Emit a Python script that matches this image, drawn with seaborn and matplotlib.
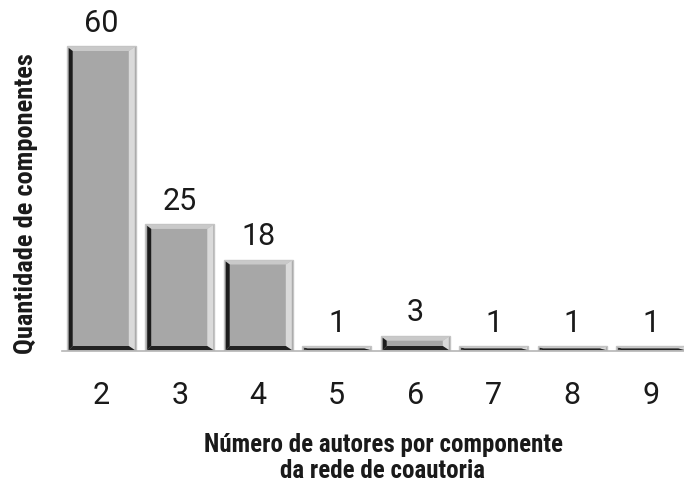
import matplotlib
matplotlib.use("Agg")
import matplotlib.pyplot as plt
from matplotlib.patches import Polygon
import numpy as np
import pandas as pd
import seaborn as sns

# Component sizes (authors per component) and how many components have each size
sizes = ["2", "3", "4", "5", "6", "7", "8", "9"]
counts = [60, 25, 18, 1, 3, 1, 1, 1]

xlabel_lines = ["Número de autores por componente", "da rede de coautoria"]
ylabel = "Quantidade de componentes"

sns.set_theme(style="white")
plt.rcParams["font.family"] = ["Roboto Condensed", "DejaVu Sans"]
digit_font = ["Roboto", "DejaVu Sans"]

W, H = 684, 485
fig = plt.figure(figsize=(W / 100, H / 100), dpi=100)
ax_left, ax_right, ax_bottom = 62, 690, 352
ax = fig.add_axes([ax_left / W, 1 - ax_bottom / H, (ax_right - ax_left) / W, ax_bottom / H])

df = pd.DataFrame({"size": sizes, "count": counts})
sns.barplot(data=df, x="size", y="count", ax=ax, color="#a7a7a7",
            width=0.88, edgecolor="#c4c4c4", linewidth=1, saturation=1)

ymax = 60 * ax_bottom / 305
ax.set_ylim(0, ymax)
ax.set_xlim(-0.5, len(sizes) - 0.5)

# pixel -> data unit factors
px_x = len(sizes) / (ax_right - ax_left)
px_y = ymax / ax_bottom

# bevelled look on each bar
for p in list(ax.patches):
    x0, y0 = p.get_x(), p.get_y()
    x1, y1 = x0 + p.get_width(), y0 + p.get_height()
    hpx = p.get_height() / px_y
    dl, dr = 6 * px_x, 7 * px_x
    db = min(5, hpx / 2) * px_y
    dt = min(5, hpx / 2) * px_y
    e = 1 * px_x
    ey = 1 * px_y
    # top light band
    ax.add_patch(Polygon([(x0 + e, y1 - ey), (x1 - e, y1 - ey), (x1 - dr, y1 - dt), (x0 + dl, y1 - dt)],
                         closed=True, facecolor="#c9c9c9", edgecolor="none", zorder=3))
    # right light band
    ax.add_patch(Polygon([(x1 - e, y0 + ey), (x1 - e, y1 - ey), (x1 - dr, y1 - dt), (x1 - dr, y0 + db)],
                         closed=True, facecolor="#dadada", edgecolor="none", zorder=3))
    # left dark band
    ax.add_patch(Polygon([(x0 + 2 * e, y0 + ey), (x0 + 2 * e, y1 - 2 * ey), (x0 + dl, y1 - dt), (x0 + dl, y0 + db)],
                         closed=True, facecolor="#1c1c1c", edgecolor="none", zorder=3))
    # bottom dark band
    ax.add_patch(Polygon([(x0 + 2 * e, y0 + ey), (x1 - e, y0 + ey), (x1 - dr, y0 + db), (x0 + dl, y0 + db)],
                         closed=True, facecolor="#222222", edgecolor="none", zorder=3))

# value labels
for i, v in enumerate(counts):
    ax.annotate(str(v), (i, v), xytext=(0, 11), textcoords="offset points",
                ha="center", va="baseline", fontsize=22, color="#1a1a1a", family=digit_font)

# axes styling
for s in ["top", "right", "left"]:
    ax.spines[s].set_visible(False)
ax.spines["bottom"].set_color("#b5b5b5")
ax.spines["bottom"].set_linewidth(1.2)
ax.set_yticks([])
ax.set_xticks(range(len(sizes)))
ax.set_xticklabels(sizes, fontsize=22, color="#1a1a1a", family=digit_font)
ax.tick_params(axis="x", which="major", length=0, pad=21)
ax.set_xticks(np.arange(-0.5, len(sizes), 1.0), minor=True)
ax.tick_params(axis="x", which="minor", length=8, width=1, color="#b5b5b5", direction="out")
ax.set_xlabel("")
ax.set_ylabel("")

# axis titles
for line, base in zip(xlabel_lines, [452, 478]):
    fig.text(383 / W, 1 - base / H, line, ha="center", va="baseline", fontsize=18,
             fontweight="bold", color="#1a1a1a")
fig.text(26 / W, 1 - 204 / H, ylabel, rotation=90, ha="center", va="center",
         fontsize=19, fontweight="bold", color="#1a1a1a")

fig.savefig("out.png", dpi=100, facecolor="white")
